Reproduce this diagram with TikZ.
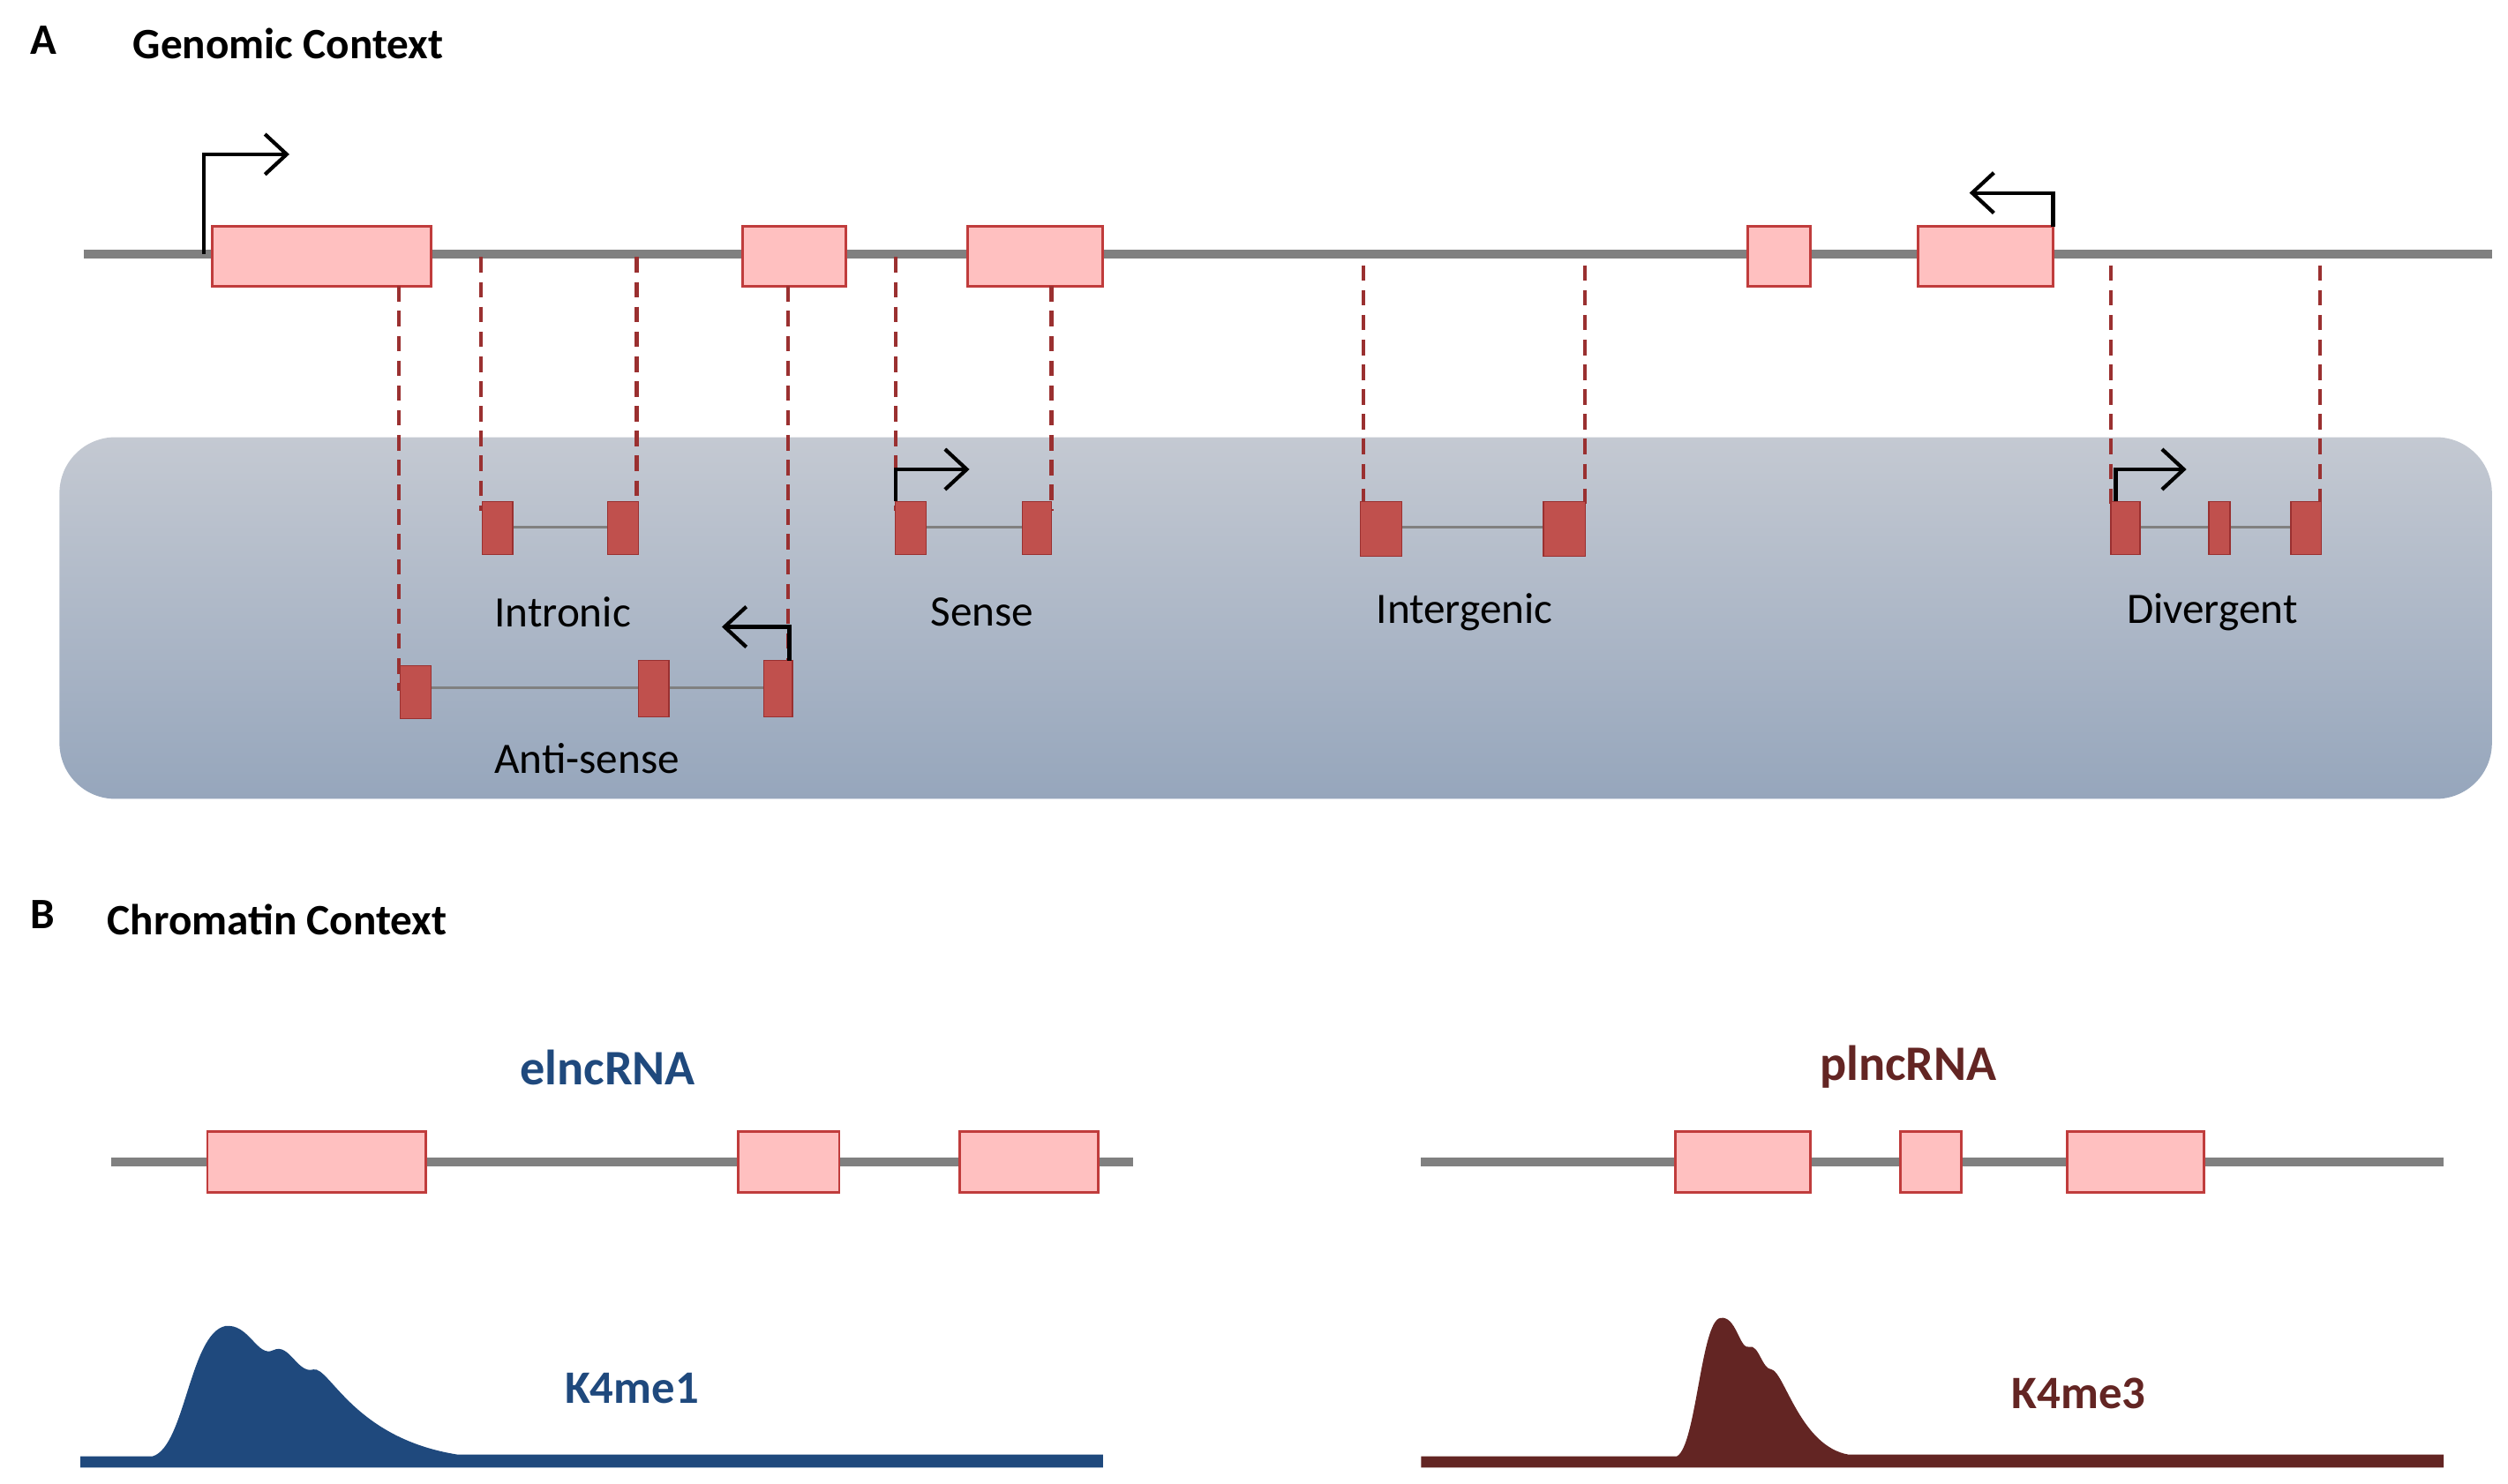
\documentclass[tikz,border=0pt]{standalone}
\usepackage{fontspec}
\setmainfont{Carlito}
\usetikzlibrary{positioning, calc, arrows.meta}
\definecolor{exonpink}{RGB}{255, 192, 192}
\definecolor{exonedge}{RGB}{192, 60, 60}
\definecolor{smallexon}{RGB}{192, 80, 77}
\definecolor{trackgray}{RGB}{128, 128, 128}
\definecolor{panetop}{RGB}{196, 201, 210}
\definecolor{panebot}{RGB}{150, 166, 188}
\definecolor{enhblue}{RGB}{31, 73, 125}
\definecolor{prombrown}{RGB}{99, 37, 35}

\begin{document}
\begin{tikzpicture}[x=0.01822cm, y=-0.01822cm,
    track/.style={draw=trackgray, line width=3pt},
    exon/.style={draw=exonedge, fill=exonpink, thick},
    sexon/.style={draw=exonedge!80!black, fill=smallexon},
    link/.style={draw=trackgray, thick},
    guide/.style={draw=exonedge!80!black, dash pattern=on 5pt off 3pt, line width=1.2pt},
    tss/.style={-{Straight Barb[length=7pt, width=13pt, line width=1.2pt]}, line width=1.2pt, black},
    label/.style={font=\fontsize{14}{16}\selectfont},
    title/.style={font=\bfseries\fontsize{14}{16}\selectfont, anchor=west}
]
\useasboundingbox (0,0) rectangle (1560,923);

% panel A
\node[title] (la) at (12,25) {A};
\node[title] (ta) at (76,27) {Genomic Context};
\shade[top color=panetop, bottom color=panebot, rounded corners=18pt] (37,272) rectangle (1550,497);
\draw[track] (52,158) -- (1550,158);
\draw[exon] (132,141) rectangle (268,178);
\draw[exon] (462,141) rectangle (526,178);
\draw[exon] (602,141) rectangle (686,178);
\draw[exon] (1087,141) rectangle (1126,178);
\draw[exon] (1193,141) rectangle (1277,178);
\draw[tss] (127,158) -- (127,96) -- (180,96);
\draw[tss] (1277,141) -- (1277,120) -- (1225,120);

% dashed guides
\foreach \x/\a/\b in {248/178/430, 299/160/318, 396/160/318, 490/178/430, 557/160/318,
    654/178/318, 848/165/318, 986/165/318, 1313/165/318, 1443/165/318}
    \draw[guide] (\x,\a) -- (\x,\b);

% lncRNA classes
\draw[link] (310,328) -- (388,328);
\draw[sexon] (300,312) rectangle (319,345);
\draw[sexon] (378,312) rectangle (397,345);
\node[label] (intronic) at (350,381) {Intronic};

\draw[link] (566,328) -- (645,328);
\draw[sexon] (557,312) rectangle (576,345);
\draw[sexon] (636,312) rectangle (654,345);
\draw[tss] (557,312) -- (557,292) -- (603,292);
\node[label] (sense) at (611,381) {Sense};

\draw[link] (859,328) -- (973,328);
\draw[sexon] (846,312) rectangle (872,346);
\draw[sexon] (960,312) rectangle (986,346);
\node[label] (intergenic) at (911,381) {Intergenic};

\draw[link] (1322,328) -- (1434,328);
\draw[sexon] (1313,312) rectangle (1331,345);
\draw[sexon] (1374,312) rectangle (1387,345);
\draw[sexon] (1425,312) rectangle (1444,345);
\draw[tss] (1316,312) -- (1316,292) -- (1360,292);
\node[label] (divergent) at (1376,381) {Divergent};

\draw[link] (258,428) -- (484,428);
\draw[sexon] (249,414) rectangle (268,447);
\draw[sexon] (397,411) rectangle (416,446);
\draw[sexon] (475,411) rectangle (493,446);
\draw[tss] (491,411) -- (491,390) -- (449,390);
\node[label] (antisense) at (365,472) {Anti-sense};

% panel B
\node[title] (lb) at (12,569) {B};
\node[title] (tb) at (60,572) {Chromatin Context};

\node[font=\bfseries\fontsize{16}{18}\selectfont, text=enhblue] (enh) at (378,664) {elncRNA};
\draw[track] (69,723) -- (705,723);
\draw[exon] (129,704) rectangle (265,742);
\draw[exon] (459,704) rectangle (522,742);
\draw[exon] (597,704) rectangle (683,742);

\node[font=\bfseries\fontsize{16}{18}\selectfont, text=prombrown] (prom) at (1187,664) {plncRNA};
\draw[track] (884,723) -- (1520,723);
\draw[exon] (1042,704) rectangle (1126,742);
\draw[exon] (1182,704) rectangle (1220,742);
\draw[exon] (1286,704) rectangle (1371,742);

% histone marks
\fill[enhblue] (50,906) -- (95,906) .. controls (115,900) and (118,830) .. (140,825)
    .. controls (155,823) and (160,845) .. (170,840) .. controls (180,835) and (185,855) .. (195,852)
    .. controls (205,850) and (220,895) .. (285,905) -- (686,905) -- (686,913) -- (50,913) -- cycle;
\node[font=\bfseries\fontsize{15}{17}\selectfont, text=enhblue] (me1) at (393,864) {K4me1};

\fill[prombrown] (884,906) -- (1043,906) .. controls (1055,900) and (1058,822) .. (1070,820)
    .. controls (1080,818) and (1082,840) .. (1088,838) .. controls (1094,836) and (1096,852) .. (1102,852)
    .. controls (1110,854) and (1120,900) .. (1150,905) -- (1520,905) -- (1520,913) -- (884,913) -- cycle;
\node[font=\bfseries\fontsize{15}{17}\selectfont, text=prombrown] (me3) at (1293,867) {K4me3};
\end{tikzpicture}
\end{document}
